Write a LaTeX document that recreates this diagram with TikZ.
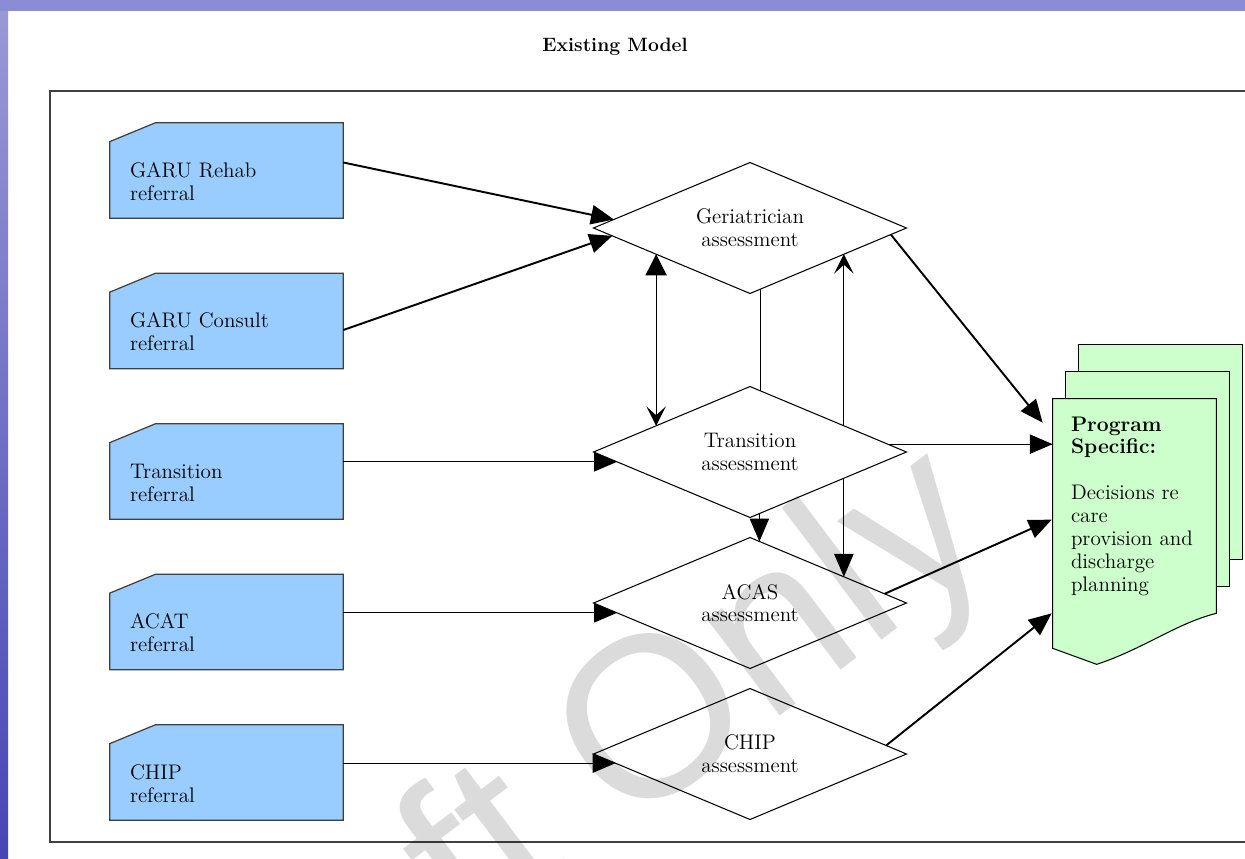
\documentclass[tikz,border=0pt]{standalone}
\usepackage{fontspec}
\newfontfamily\wmfont{Liberation Sans}
\usepackage{tikz}
\usetikzlibrary{arrows.meta,calc,shapes.geometric,backgrounds}

\definecolor{cardblue}{HTML}{99CCFF}
\definecolor{docgreen}{HTML}{CCFFCC}
\definecolor{slideblue}{HTML}{8C8CD6}
\definecolor{slidetop}{HTML}{9A9AD6}
\definecolor{slidebottom}{HTML}{4646B4}
\definecolor{framegray}{HTML}{404040}

\begin{document}
\begin{tikzpicture}[x=0.02cm,y=-0.02cm,
    every node/.style={font=\fontsize{12}{13}\selectfont},
    card/.style={minimum width=4.66cm,minimum height=1.9cm,text width=3.86cm,
        inner xsep=0.4cm,inner ysep=0pt,align=left,
        execute at begin node={\rule{0pt}{21pt}}},
    cardline/.style={draw=framegray,fill=cardblue,line width=0.7pt},
    assess/.style={diamond,draw,fill=white,aspect=2.4,minimum width=6.26cm,
        minimum height=2.62cm,inner sep=0pt,outer sep=0pt,align=center,line width=0.6pt},
    progdoc/.style={minimum width=3.26cm,minimum height=4.28cm,text width=2.54cm,
        inner xsep=0.36cm,inner ysep=0pt,align=left},
    docline/.style={draw=black,fill=docgreen,line width=0.6pt},
    tri/.style={-{Triangle[length=13pt,width=11pt]}},
    chev/.style={-{Stealth[length=11pt,width=11pt,inset=5pt]}},
    arrthin/.style={tri,line width=0.6pt},
    arrthick/.style={tri,line width=1.1pt},
    wmark/.style={font=\wmfont\fontsize{130}{132}\selectfont,text=black,
        opacity=0.14,rotate=37,inner sep=0pt}]
    \useasboundingbox (0,0) rectangle (1245,859);
    % slide and page
    \begin{scope}[on background layer]
        \fill[white] (0,0) rectangle (1245,859);
        \shade[top color=slidetop,bottom color=slidebottom] (0,0) rectangle (8,859);
        \fill[slideblue] (0,0) rectangle (1245,11);
        \draw[framegray,line width=0.7pt] (1245,91) -- (50,91) -- (50,842) -- (1245,842);
    \end{scope}
    \node[font=\fontsize{11}{13}\selectfont\bfseries] (title) at (615,47) {Existing Model};

    % referrals
    \foreach \nm/\lbl [count=\i from 0] in {rehab/GARU Rehab,consult/GARU Consult,tref/Transition,acat/ACAT,cref/CHIP}{
        \node[card] (\nm) at (226.5,{170.5+150.5*\i}) {\lbl\\referral};
        \begin{scope}[on background layer]
            \draw[cardline] (\nm.south west) -- ($(\nm.north west)+(0,19)$) -- ($(\nm.north west)+(46,0)$)
                -- (\nm.north east) -- (\nm.south east) -- cycle;
        \end{scope}
    }

    % assessments
    \node[assess] (ger) at (750,228) {Geriatrician\\assessment};
    \node[assess] (tas) at (750,452) {Transition\\assessment};
    \node[assess] (acas) at (750,603) {ACAS\\assessment};
    \node[assess] (chas) at (750,754) {CHIP\\assessment};

    % program specific documents
    \node[progdoc] (prog) at (1134.5,506) {\textbf{Program}\\\textbf{Specific:}\\[13pt]Decisions re\\care\\provision and\\discharge\\planning};
    \begin{scope}[on background layer]
        \draw[docline] ($(prog.north west)+(26,-54)$) rectangle ($(prog.south east)+(26,-54)$);
        \draw[docline] ($(prog.north west)+(13,-27)$) rectangle ($(prog.south east)+(13,-27)$);
        \draw[docline] (prog.north west) -- ($(prog.south west)+(0,35)$) -- ($(prog.south west)+(44,51)$)
            .. controls ($(prog.south west)+(90,36)$) and ($(prog.south east)+(-40,10)$) .. (prog.south east)
            -- (prog.north east) -- cycle;
    \end{scope}

    % referral arrows
    \draw[arrthick] ($(rehab.east)+(0,-8)$) -- ($(ger.west)!0.13!(ger.north)$);
    \draw[arrthick] ($(consult.east)+(0,9)$) -- ($(ger.west)!0.12!(ger.south)$);
    \coordinate (tin) at ($(tas.west)!0.15!(tas.south)$);
    \coordinate (ain) at ($(acas.west)!0.15!(acas.south)$);
    \coordinate (cin) at ($(chas.west)!0.14!(chas.south)$);
    \draw[arrthin] (tref.east |- tin) -- (tin);
    \draw[arrthin] (acat.east |- ain) -- (ain);
    \draw[arrthin] (cref.east |- cin) -- (cin);

    % between assessments
    \draw[line width=0.6pt,{Triangle[length=12pt,width=12pt]}-{Stealth[length=11pt,width=11pt,inset=5pt]}]
        ($(ger.west)!0.4!(ger.south)$) -- ($(tas.west)!0.4!(tas.north)$);
    \draw[line width=0.6pt] ($(ger.south)!0.07!(ger.east)$) -- ($(tas.north)!0.07!(tas.east)$);
    \draw[chev,line width=0.6pt] ($(tas.north)!0.6!(tas.east)$) -- ($(ger.south)!0.6!(ger.east)$);
    \draw[arrthin] ($(tas.east)!0.4!(tas.south)$) -- ($(acas.north)!0.6!(acas.east)$);
    \draw[arrthin] ($(tas.south)!0.06!(tas.east)$) -- ($(acas.north)!0.06!(acas.east)$);

    % into the program documents
    \coordinate (tout) at ($(tas.east)!0.12!(tas.north)$);
    \draw[arrthick] ($(ger.east)!0.1!(ger.south)$) -- ($(prog.north west)+(-10,24)$);
    \draw[arrthin] (tout) -- (tout -| prog.west);
    \draw[arrthick] ($(acas.east)!0.14!(acas.north)$) -- ($(prog.north west)+(-1,121)$);
    \draw[arrthick] ($(chas.east)!0.13!(chas.north)$) -- ($(prog.south west)+(-1,0)$);

    % watermark
    \node[wmark] (wm) at (555,812) {Draft Only};
\end{tikzpicture}
\end{document}
